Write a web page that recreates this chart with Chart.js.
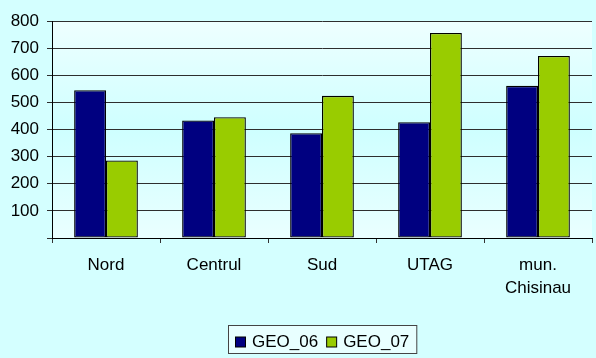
<!DOCTYPE html>
<html>
<head>
<meta charset="utf-8">
<script src="https://cdn.jsdelivr.net/npm/chart.js@4/dist/chart.umd.min.js"></script>
<style>
  html, body { margin: 0; padding: 0; background: #D4FFFF; }
  #wrap { width: 596px; height: 358px; }
</style>
</head>
<body>
<div id="wrap"><canvas id="grafic" width="596" height="358"></canvas></div>
<script>
const regiuni = ["Nord", "Centrul", "Sud", "UTAG", ["mun.", "Chisinau"]];
const geo06 = [545, 433, 386, 427, 561];
const geo07 = [286, 445, 524, 756, 671];
const etichete = ["GEO_06", "GEO_07"];
const culori = ["#000080", "#99CC00"];

// fundal: canvas turcoaz + zona graficului cu gradient
const fundal = {
  id: "fundal",
  beforeDraw(chart) {
    const { ctx, chartArea: a } = chart;
    ctx.save();
    ctx.fillStyle = "#D4FFFF";
    ctx.fillRect(0, 0, chart.width, chart.height);
    const g = ctx.createLinearGradient(0, a.top, 0, a.bottom);
    g.addColorStop(0, "#EEFFFF");
    g.addColorStop(0.5, "#CEFFFF");
    g.addColorStop(1, "#EAFFFF");
    ctx.fillStyle = g;
    ctx.fillRect(a.left, a.top, a.right - a.left, a.bottom - a.top);
    ctx.restore();
  }
};

// legenda in chenar, centrata sub zona graficului
const legenda = {
  id: "legenda",
  afterDraw(chart) {
    const { ctx, chartArea: a } = chart;
    ctx.save();
    ctx.font = "17px 'Liberation Sans', Arial, sans-serif";
    const w = chart.data.datasets.map(d => ctx.measureText(d.label).width);
    const box = 11, gap = 6, spatiu = 8, pad = 7;
    const total = pad * 2 + w.reduce((s, v) => s + box + gap + v, 0) + spatiu;
    const x0 = Math.round((a.left + a.right) / 2 - total / 2);
    const y0 = 325, h = 28, cy = y0 + h / 2 + 3;
    ctx.fillStyle = "#E8FFFF";
    ctx.fillRect(x0 + 0.5, y0 + 0.5, total, h);
    ctx.strokeStyle = "#444";
    ctx.lineWidth = 1;
    ctx.strokeRect(x0 + 0.5, y0 + 0.5, total, h);
    let x = x0 + pad;
    chart.data.datasets.forEach((d, i) => {
      ctx.fillStyle = d.backgroundColor;
      ctx.fillRect(x + 0.5, cy - box / 2 + 0.5, box - 1, box - 1);
      ctx.strokeStyle = "#000";
      ctx.strokeRect(x + 0.5, cy - box / 2 + 0.5, box - 1, box - 1);
      x += box + gap;
      ctx.fillStyle = "#000";
      ctx.textBaseline = "middle";
      ctx.fillText(d.label, x, cy);
      x += w[i] + spatiu;
    });
    ctx.restore();
  }
};

new Chart(document.getElementById("grafic"), {
  type: "bar",
  data: {
    labels: regiuni,
    datasets: [
      { label: etichete[0], data: geo06, backgroundColor: culori[0] },
      { label: etichete[1], data: geo07, backgroundColor: culori[1] }
    ]
  },
  options: {
    responsive: false,
    animation: false,
    devicePixelRatio: 1,
    layout: { padding: { top: 21, right: 4, left: 0, bottom: 0 } },
    datasets: {
      bar: {
        categoryPercentage: 0.59,
        barPercentage: 1,
        borderColor: "#000",
        borderWidth: 1.3,
        borderSkipped: false
      }
    },
    plugins: {
      legend: { display: false },
      tooltip: { enabled: false }
    },
    scales: {
      x: {
        afterFit: s => { s.height = 120; },
        grid: {
          offset: true,
          drawOnChartArea: false,
          color: "#333",
          tickLength: 5
        },
        border: { color: "#000", width: 1 },
        ticks: {
          color: "#000",
          padding: 10,
          maxRotation: 0,
          font: { family: "'Liberation Sans', Arial, sans-serif", size: 17, lineHeight: 1.4 }
        }
      },
      y: {
        min: 0,
        max: 800,
        afterFit: s => { s.width = 52; },
        grid: { color: "#2e2e2e", tickLength: 5 },
        border: { color: "#000", width: 1 },
        ticks: {
          stepSize: 100,
          color: "#000",
          padding: 8,
          font: { family: "'Liberation Sans', Arial, sans-serif", size: 17 },
          callback: v => (v === 0 ? "" : v)
        }
      }
    }
  },
  plugins: [fundal, legenda]
});
</script>
</body>
</html>
